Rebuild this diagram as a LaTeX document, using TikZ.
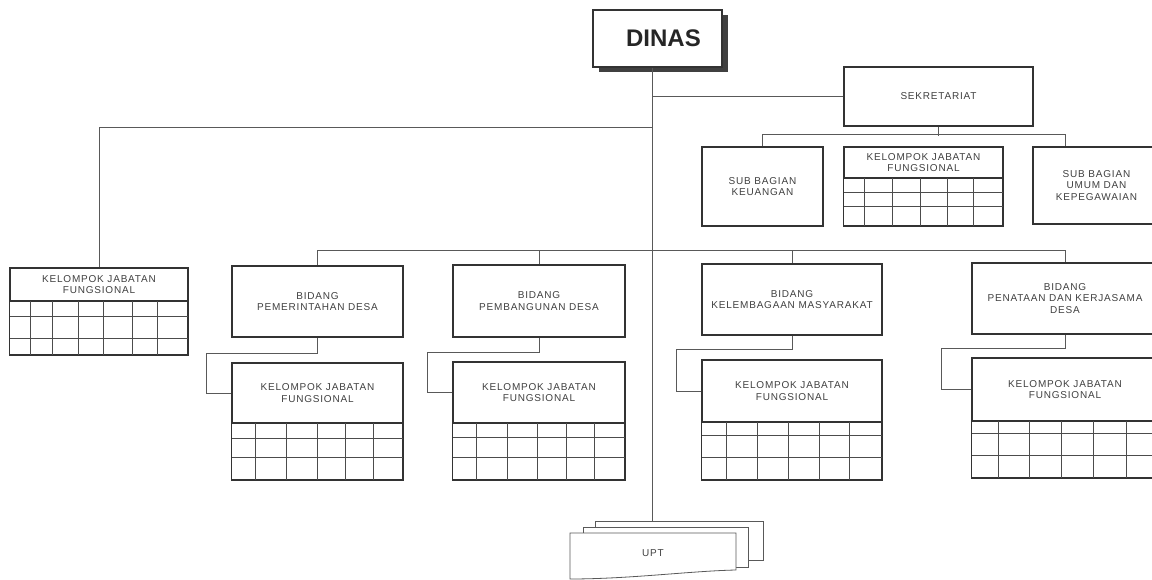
\documentclass[tikz,border=0pt]{standalone}
\usepackage{fontspec}
\setmainfont{Liberation Sans}
\newfontfamily\labf{Liberation Sans}[LetterSpace=8]
\usetikzlibrary{shadows}
\tikzset{
  ln/.style={draw=black!65, line width=0.85pt},
  gridln/.style={draw=black!70, line width=0.8pt},
  box/.style={draw=black!80, line width=1.1pt, fill=white, inner sep=0pt, align=center,
    text=black!75, font={\labf\fontsize{10}{11.7}\selectfont}},
  page/.style={draw=black!65, line width=0.8pt, fill=white},
  dinasbox/.style={draw=black!80, line width=1.4pt, fill=white, inner sep=0pt,
    minimum width=129pt, minimum height=57pt, font={\bfseries\fontsize{24}{28}\selectfont}, text=black!85,
    drop shadow={shadow xshift=6pt, shadow yshift=-5pt, fill=black!75, opacity=1}},
}
\newcommand\kjf[8]{%
  \node[box, minimum width={#4-#2}, minimum height={#5-#3}] (#1) at ({(#2+#4)/2},{(#3+#5)/2}) {KELOMPOK JABATAN\\FUNGSIONAL};
  \draw[gridln, line width=1.1pt, draw=black!80] (#1.south west) rectangle (#4,#6);
  \foreach \r in {#7} \draw[gridln] (#2,\r) -- (#4,\r);
  \foreach \c in {#8} \draw[gridln] (\c,#5) -- (\c,#6);
}
\begin{document}
\begin{tikzpicture}[x=1pt,y=-1pt]
\useasboundingbox (0,0) rectangle (1152,580);
\clip (0,0) rectangle (1152,580);
\fill[white] (0,0) rectangle (1152,580);

\coordinate (uptTop) at (652,521);
\coordinate (jl) at (652,127);
\coordinate (bus) at (0,250);

% DINAS
\node[dinasbox] (dinas) at (657.5,38.5) {\hspace*{12pt}DINAS};

% Sekretariat level
\node[box, minimum width=189pt, minimum height=59pt] (sek) at (938.5,96.5) {SEKRETARIAT};
\node[box, minimum width=121pt, minimum height=79pt] (sbk) at (762.5,186.5) {SUB BAGIAN\\KEUANGAN};
\node[box, minimum width=127pt, minimum height=77pt] (sbu) at (1096.5,185.5) {SUB BAGIAN\\UMUM DAN\\KEPEGAWAIAN};

% Bidang
\node[box, minimum width=171pt, minimum height=71pt] (bp) at (317.5,301.5) {BIDANG\\PEMERINTAHAN DESA};
\node[box, minimum width=172pt, minimum height=72pt] (bb) at (539,301) {BIDANG\\PEMBANGUNAN DESA};
\node[box, minimum width=180pt, minimum height=71pt] (bk) at (792,299.5) {BIDANG\\KELEMBAGAAN MASYARAKAT};
\node[box, minimum width=186pt, minimum height=71pt] (bt) at (1065,298.5) {BIDANG\\PENATAAN DAN KERJASAMA\\DESA};

% Kelompok jabatan fungsional boxes
\kjf{kL}{10}{268}{188}{301}{355}{316,338}{30,52,78,103,132,157}
\kjf{kS}{844}{147}{1003}{178}{226}{192,206}{864,892,920,947,973}
\kjf{kp}{232}{363}{403}{423}{480}{438,457}{255,286,317,345,373}
\kjf{kb}{453}{362}{625}{423}{480}{437,457}{476,507,537,566,594}
\kjf{kk}{702}{360}{882}{422}{480}{435,457}{726,757,788,819,849}
\kjf{kt}{972}{358}{1158}{421}{478}{433,455}{998,1029,1061,1093,1126}

% connectors
\draw[ln] (dinas.south -| uptTop) -- (uptTop);
\draw[ln] (uptTop |- sek.west) -- (sek.west);
\draw[ln] (jl) -| (kL.north);
\draw[ln] (sek.south) -- ++(0,9);
\draw[ln] (sbk.north) -- ++(0,-12) -| (sbu.north -| 1065,0);
\draw[ln] (bp.north) -- (bp.north |- bus) -- (bt.north |- bus) -- (bt.north);
\draw[ln] (bb.north) -- (bb.north |- bus);
\draw[ln] (bk.north) -- (bk.north |- bus);
\draw[ln] (bp.south) -- ++(0,16) -| ([xshift=-25pt]kp.west) -- (kp.west);
\draw[ln] (bb.south) -- ++(0,15) -| ([xshift=-25pt]kb.west) -- (kb.west);
\draw[ln] (bk.south) -- ++(0,14) -| ([xshift=-25pt]kk.west) -- (kk.west);
\draw[ln] (bt.south) -- ++(0,14) -| ([xshift=-30pt]kt.west) -- (kt.west);

% UPT stacked pages
\path[page] (595,521) -- (763,521) -- (763,560) -- (595,560) -- cycle;
\path[page] (583,527) -- (748,527) -- (748,567) -- (583,567) -- cycle;
\path[page] (570,533) -- (736,533) -- (736,570) .. controls (690,571) and (630,579) .. (570,579) -- cycle;
\node[box, draw=none, fill=none] (upt) at (653,553) {UPT};
\end{tikzpicture}
\end{document}
